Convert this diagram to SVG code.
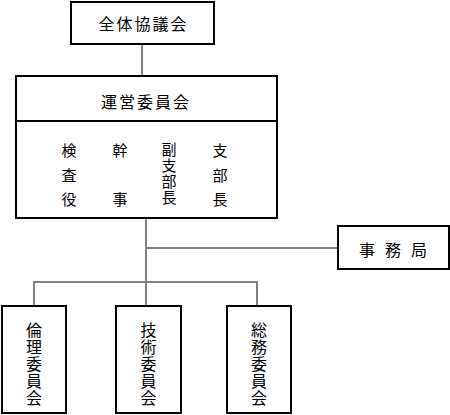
<svg xmlns="http://www.w3.org/2000/svg" width="450" height="415" viewBox="0 0 450 415">
<style>
.box{fill:#fff;stroke:#000;stroke-width:2}
.ln{stroke:#808080;stroke-width:2;fill:none}
text{font-family:"Noto Sans CJK JP","Noto Sans CJK SC",sans-serif;font-size:16px;fill:#000;text-anchor:middle;dominant-baseline:central}
.t{letter-spacing:2px}
.s{font-size:15px}
.v{writing-mode:vertical-rl;text-orientation:upright;letter-spacing:1px}
</style>
<rect width="450" height="415" fill="#fff"/>
<g id="connectors">
<line class="ln" x1="142" y1="44" x2="142" y2="76"/>
<line class="ln" x1="146" y1="218" x2="146" y2="306"/>
<line class="ln" x1="146" y1="248" x2="338" y2="248"/>
<polyline class="ln" points="34,306 34,282 257,282 257,306"/>
</g>
<g id="zentai">
<rect class="box" x="71" y="2" width="143" height="42"/>
<text class="t" x="143.5" y="23">全体協議会</text>
</g>
<g id="unei">
<rect class="box" x="16" y="76" width="261" height="142"/>
<line x1="16" y1="121" x2="277" y2="121" stroke="#000" stroke-width="2"/>
<text class="t" x="146" y="101">運営委員会</text>
<text class="s" x="69" y="149">検</text><text class="s" x="69" y="174">査</text><text class="s" x="69" y="198">役</text>
<text class="s" x="120" y="149">幹</text><text class="s" x="120" y="198">事</text>
<text class="s v" x="169" y="174">副支部長</text>
<text class="s" x="220" y="149">支</text><text class="s" x="220" y="174">部</text><text class="s" x="220" y="198">長</text>
</g>
<g id="jimukyoku">
<rect class="box" x="338" y="226" width="111" height="43"/>
<text x="398" y="249" style="letter-spacing:10px">事務局</text>
</g>
<g id="rinri">
<rect class="box" x="2" y="306" width="64" height="107"/>
<text class="v" x="34" y="364">倫理委員会</text>
</g>
<g id="gijutsu">
<rect class="box" x="116" y="306" width="65" height="107"/>
<text class="v" x="148.5" y="364">技術委員会</text>
</g>
<g id="soumu">
<rect class="box" x="227" y="306" width="64" height="107"/>
<text class="v" x="259" y="364">総務委員会</text>
</g>
</svg>
